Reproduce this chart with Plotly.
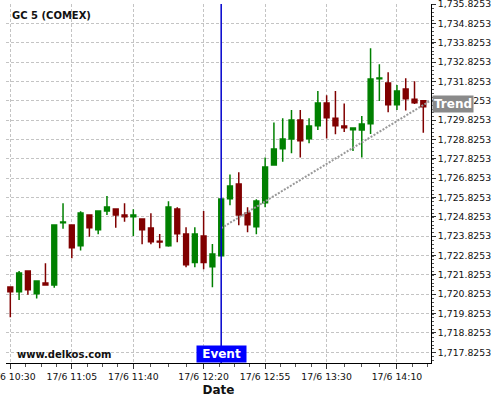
import plotly.graph_objects as go
import pandas as pd

# ---- data ----
times = [
    "2020-06-17 10:30", "2020-06-17 10:35", "2020-06-17 10:40", "2020-06-17 10:45",
    "2020-06-17 10:50", "2020-06-17 10:55", "2020-06-17 11:00", "2020-06-17 11:05",
    "2020-06-17 11:10", "2020-06-17 11:15", "2020-06-17 11:20", "2020-06-17 11:25",
    "2020-06-17 11:30", "2020-06-17 11:35", "2020-06-17 11:40", "2020-06-17 11:45",
    "2020-06-17 11:50", "2020-06-17 11:55", "2020-06-17 12:00", "2020-06-17 12:05",
    "2020-06-17 12:10", "2020-06-17 12:15", "2020-06-17 12:20", "2020-06-17 12:25",
    "2020-06-17 12:30", "2020-06-17 12:35", "2020-06-17 12:40", "2020-06-17 12:45",
    "2020-06-17 12:50", "2020-06-17 12:55", "2020-06-17 13:00", "2020-06-17 13:05",
    "2020-06-17 13:10", "2020-06-17 13:15", "2020-06-17 13:20", "2020-06-17 13:25",
    "2020-06-17 13:30", "2020-06-17 13:35", "2020-06-17 13:40", "2020-06-17 13:45",
    "2020-06-17 13:50", "2020-06-17 13:55", "2020-06-17 14:00", "2020-06-17 14:05",
    "2020-06-17 14:10", "2020-06-17 14:15", "2020-06-17 14:20", "2020-06-17 14:25",
]
opens = [1721.20, 1720.96, 1722.03, 1720.85, 1721.41, 1721.30, 1724.52, 1724.40,
         1723.33, 1724.92, 1724.16, 1725.13, 1725.23, 1724.92, 1724.83, 1724.71,
         1724.25, 1723.56, 1723.33, 1725.23, 1723.94, 1722.46, 1723.84, 1722.25,
         1722.82, 1725.76, 1726.52, 1725.02, 1724.32, 1725.56, 1727.51, 1728.35,
         1728.85, 1729.83, 1728.86, 1729.54, 1730.71, 1729.92, 1729.52, 1729.33,
         1729.31, 1729.64, 1731.97, 1731.74, 1730.62, 1731.43, 1730.91, 1730.83]
highs = [1721.20, 1722.03, 1722.03, 1721.51, 1722.43, 1724.40, 1725.53, 1724.40,
         1725.11, 1724.92, 1725.13, 1725.90, 1725.23, 1725.53, 1725.22, 1724.71,
         1725.01, 1723.94, 1725.63, 1725.32, 1724.29, 1724.29, 1725.13, 1723.42,
         1725.75, 1727.02, 1727.13, 1725.32, 1725.73, 1727.90, 1729.71, 1729.92,
         1730.35, 1730.35, 1729.92, 1731.33, 1731.11, 1731.33, 1730.69, 1729.44,
         1730.04, 1733.54, 1732.71, 1732.30, 1731.64, 1731.99, 1731.83, 1730.83]
lows = [1719.63, 1720.53, 1720.80, 1720.60, 1721.30, 1721.16, 1724.21, 1722.68,
        1723.08, 1723.80, 1723.92, 1724.92, 1724.26, 1724.57, 1723.84, 1723.41,
        1723.41, 1723.20, 1723.28, 1723.51, 1722.22, 1722.22, 1722.12, 1721.18,
        1722.82, 1725.42, 1724.39, 1724.03, 1723.92, 1725.32, 1727.47, 1727.68,
        1728.11, 1727.90, 1728.63, 1729.31, 1728.88, 1729.09, 1729.21, 1728.23,
        1727.90, 1729.11, 1730.81, 1730.23, 1730.35, 1730.33, 1730.66, 1729.18]
closes = [1720.96, 1721.92, 1721.06, 1721.51, 1721.30, 1724.40, 1724.56, 1723.23,
          1725.02, 1724.26, 1725.13, 1725.33, 1724.92, 1724.83, 1724.92, 1724.16,
          1723.54, 1723.53, 1725.33, 1723.95, 1722.35, 1723.94, 1722.46, 1722.91,
          1725.75, 1726.42, 1724.92, 1724.42, 1725.64, 1727.40, 1728.33, 1728.85,
          1729.83, 1728.76, 1729.52, 1730.71, 1729.95, 1729.54, 1729.43, 1729.42,
          1729.62, 1731.95, 1732.01, 1730.62, 1731.33, 1730.93, 1730.72, 1730.52]

trend_times = ["2020-06-17 12:30", "2020-06-17 14:29"]
trend_values = [1724.24, 1730.83]

event_time = "2020-06-17 12:30"

tick_times = ["2020-06-17 10:30", "2020-06-17 11:05", "2020-06-17 11:40",
              "2020-06-17 12:20", "2020-06-17 12:55", "2020-06-17 13:30",
              "2020-06-17 14:10"]
tick_labels = ["17/6 10:30", "17/6 11:05", "17/6 11:40", "17/6 12:20",
               "17/6 12:55", "17/6 13:30", "17/6 14:10"]

x_range = ["2020-06-17 10:27:33", "2020-06-17 14:29:23"]
y_range = [1717.27, 1735.83]

# minor ticks: each major interval split in four
tt = pd.to_datetime(tick_times)
minor = []
for a, b in zip(tt[:-1], tt[1:]):
    step = (b - a) / 4
    for k in range(1, 4):
        minor.append(a + step * k)
step = (tt[1] - tt[0]) / 4
for k in range(1, 3):
    minor.append(tt[-1] + step * k)
minor_vals = [m.strftime("%Y-%m-%d %H:%M:%S") for m in minor]

FONT = "DejaVu Sans"
GREEN = "#008000"
RED = "#800000"
GRID = "#c4c4c4"

fig = go.Figure()

fig.add_trace(go.Scatter(
    x=trend_times, y=trend_values, mode="lines",
    line=dict(color="#999999", width=2, dash="2px,1.5px"),
    hoverinfo="skip", showlegend=False,
))

fig.add_trace(go.Candlestick(
    x=times, open=opens, high=highs, low=lows, close=closes,
    increasing=dict(line=dict(color=GREEN, width=1.5), fillcolor=GREEN),
    decreasing=dict(line=dict(color=RED, width=1.5), fillcolor=RED),
    whiskerwidth=0, showlegend=False,
))

fig.add_shape(type="line", xref="x", yref="paper",
              x0=event_time, x1=event_time, y0=0, y1=1,
              line=dict(color="#0000cc", width=1.5))

fig.add_annotation(x=event_time, y=0, xref="x", yref="paper",
                   xanchor="center", yanchor="bottom",
                   text="<b> Event </b>", showarrow=False,
                   bgcolor="#0000ff", borderpad=1,
                   font=dict(family=FONT, size=12, color="white"))

fig.add_annotation(x=1, y=trend_values[-1], xref="paper", yref="y",
                   xanchor="left", yanchor="middle", xshift=1, yshift=-3,
                   text="<b>Trend</b>", showarrow=False,
                   bgcolor="#8a8a8a", borderpad=1,
                   font=dict(family=FONT, size=12, color="white"))

fig.add_annotation(x=0.009, y=0.969, xref="paper", yref="paper",
                   xanchor="left", yanchor="middle",
                   text="<b>GC 5 (COMEX)</b>", showarrow=False,
                   font=dict(family=FONT, size=10, color="#111111"))

fig.add_annotation(x=0.021, y=0.025, xref="paper", yref="paper",
                   xanchor="left", yanchor="middle",
                   text="<b>www.delkos.com</b>", showarrow=False,
                   font=dict(family=FONT, size=10, color="#111111"))

fig.update_layout(
    width=500, height=400,
    margin=dict(l=6, r=69, t=4, b=37, autoexpand=False),
    paper_bgcolor="white", plot_bgcolor="white",
    font=dict(family=FONT, size=9.3, color="#111111"),
    boxgap=0.22,
    showlegend=False,
    hovermode=False,
)

fig.update_xaxes(
    type="date", range=x_range, automargin=False,
    rangeslider=dict(visible=False),
    tickmode="array", tickvals=tick_times, ticktext=tick_labels,
    ticks="outside", ticklen=5, tickcolor="#333333",
    ticklabeloverflow="allow",
    showline=True, linecolor="black", linewidth=1,
    showgrid=True, gridcolor=GRID, griddash="3px,2px", gridwidth=1,
    zeroline=False,
    tickfont=dict(family=FONT, size=9.3, color="#111111"),
    title=dict(text="<b>Date</b>", font=dict(family=FONT, size=12, color="#111111"),
               standoff=4),
    minor=dict(tickmode="array", tickvals=minor_vals, ticks="outside",
               ticklen=3, tickcolor="#555555", showgrid=False),
)

fig.update_yaxes(
    side="right", range=y_range, automargin=False,
    tick0=1717.8253, dtick=1, tickformat=",.4f",
    ticks="outside", ticklen=4, tickcolor="#333333",
    ticklabeloverflow="allow",
    showline=True, linecolor="black", linewidth=1,
    showgrid=True, gridcolor=GRID, griddash="3px,2px", gridwidth=1,
    zeroline=False,
    tickfont=dict(family=FONT, size=9.3, color="#111111"),
    minor=dict(dtick=0.2, ticks="outside", ticklen=2, tickcolor="#555555",
               showgrid=False),
)

fig.write_html(
    "out.html",
    config={"displayModeBar": False},
    post_script="document.body.style.margin='0';document.body.style.overflow='hidden';",
)
